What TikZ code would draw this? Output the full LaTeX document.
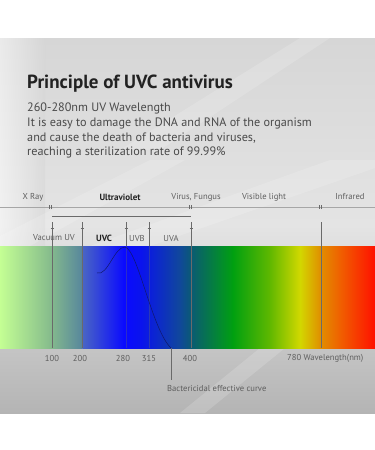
\documentclass[tikz,border=0pt]{standalone}
\usepackage{fontspec}
\setmainfont{PT Sans}
\usetikzlibrary{positioning}

\definecolor{titlegray}{HTML}{222222}
\definecolor{bodygray}{HTML}{4A4A4A}
\definecolor{labgray}{HTML}{5E5E5E}
\definecolor{linegray}{HTML}{6A6A6A}
\definecolor{curveblue}{HTML}{10186A}
\definecolor{panelA}{HTML}{D6D6D6}
\definecolor{panelB}{HTML}{E4E4E4}
\definecolor{panelC}{HTML}{B4B4B4}
\definecolor{spA}{HTML}{C4FF94}
\definecolor{spB}{HTML}{86BC8C}
\definecolor{spC}{HTML}{58889C}
\definecolor{spD}{HTML}{4A66C4}
\definecolor{spE}{HTML}{0A0AFF}
\definecolor{spF}{HTML}{0A14EC}
\definecolor{spG}{HTML}{10489A}
\definecolor{spH}{HTML}{0A5A74}
\definecolor{spI}{HTML}{00A010}
\definecolor{spJ}{HTML}{60B800}
\definecolor{spK}{HTML}{D2D800}
\definecolor{spL}{HTML}{E09000}
\definecolor{spM}{HTML}{F06000}
\definecolor{spN}{HTML}{FF1000}

\begin{document}
\begin{tikzpicture}[x=1pt, y=-1pt,
  lbl/.style={font=\fontsize{8.6}{9}\selectfont, text=labgray, inner sep=0pt},
  boldlbl/.style={lbl, font=\fontsize{9}{9}\selectfont\bfseries, text=titlegray},
  guide/.style={draw=linegray, line width=0.5pt},
  faint/.style={draw=linegray, line width=0.4pt, opacity=0.35},
  streak/.style={fill=white, opacity=0.16}]

  % page and grey panel
  \useasboundingbox (0,0) rectangle (375,450);
  \fill[white] (0,0) rectangle (375,450);
  \shade[top color=panelA, bottom color=panelC, middle color=panelB] (0,38) rectangle (375,413);
  \shade[left color=white, right color=panelA, opacity=0.5] (0,38) rectangle (45,246);
  \fill[streak] (0,236) -- (150,160) -- (185,160) -- (30,246) -- (0,246) -- cycle;
  \fill[streak] (90,246) -- (330,160) -- (375,160) -- (375,168) -- (150,246) -- cycle;
  \fill[streak] (120,150) -- (300,38) -- (330,38) -- (160,150) -- cycle;
  \fill[streak] (180,413) -- (260,348) -- (285,348) -- (205,413) -- cycle;

  % heading
  \node[anchor=base west, inner sep=0pt, text=titlegray,
        font=\fontsize{19}{20}\selectfont\bfseries] (title) at (27,88) {Principle of UVC antivirus};
  \node[anchor=north west, inner sep=0pt, text=bodygray, align=left,
        font=\fontsize{12.2}{14.6}\selectfont] (body) at (27,103)
        {260-280nm UV Wavelength\\
         It is easy to damage the DNA and RNA of the organism\\
         and cause the death of bacteria and viruses,\\
         reaching a sterilization rate of 99.99\%};

  % top row
  \node[lbl] (xray) at (33,197) {X Ray};
  \node[boldlbl] (ultra) at (120,197) {Ultraviolet};
  \node[lbl] (virus) at (196,197) {Virus, Fungus};
  \node[lbl] (vis) at (264,197) {Visible light};
  \node[lbl] (infra) at (350,197) {Infrared};
  \coordinate (rowL) at (0,207);
  \coordinate (rowR) at (375,207);
  \draw[guide, draw=gray!70] (rowL) -- (rowR);
  \foreach \t in {50,190,320}
    \draw[guide] (\t-1,205) -- (\t-1,209) (\t+1,205) -- (\t+1,209);

  % spectrum band
  \foreach \xa/\ca/\xb/\cb in {0/spA/50/spB, 50/spB/81/spC, 81/spC/82.5/spD,
      82.5/spD/124/spE, 124/spE/142/spF, 142/spF/180/spG, 180/spG/191/spH,
      191/spH/233/spI, 233/spI/270/spJ, 270/spJ/300/spK, 300/spK/320/spL,
      320/spL/340/spM, 340/spM/375/spN}
    \shade[left color=\ca, right color=\cb] (\xa-0.2,246) rectangle (\xb+0.2,348);
  \coordinate (bandTop) at (0,246);
  \coordinate (bandBot) at (0,348);

  % boundaries
  \coordinate (b100) at (52,222);
  \coordinate (b200) at (82,222);
  \coordinate (b280) at (126,222);
  \coordinate (b315) at (149,222);
  \coordinate (b400) at (191,222);
  \coordinate (b780) at (321,222);
  \foreach \b in {b100,b200,b400,b780}
    \draw[guide] (\b) -- (\b |- bandBot);
  \foreach \b in {b280,b315}{
    \draw[guide] (\b) -- (\b |- bandTop);
    \draw[faint] (\b |- bandTop) -- (\b |- bandBot);
  }
  \draw[guide] ([yshift=6]b100) -- ([yshift=6]b400);
  \foreach \b in {b100,b200,b280,b315,b400}
    \draw[guide] ([shift={(-1.5,6)}]\b) -- ([shift={(1.5,6)}]\b);

  % band names
  \node[lbl] (vacuum) at (54,238) {Vacuum UV};
  \node[boldlbl] (uvc) at (104,238) {UVC};
  \node[lbl] (uvb) at (137,238) {UVB};
  \node[lbl] (uva) at (171,238) {UVA};

  % bactericidal curve
  \coordinate (cstart) at (97,273);
  \coordinate (cpeak) at (125,247);
  \coordinate (cend) at (171,348);
  \draw[curveblue, line width=0.5pt] (cstart) .. controls (108,276) and (114,247) .. (cpeak)
        .. controls (138,250) and (152,330) .. (cend);
  \node[lbl, anchor=west] (bcl) at (167,389) {Bactericidal effective curve};
  \draw[guide] (cend) -- (cend |- 0,380);

  % wavelengths
  \node[lbl] (w100) at (52,358) {100};
  \node[lbl] (w200) at (80,358) {200};
  \node[lbl] (w280) at (123,358) {280};
  \node[lbl] (w315) at (149,358) {315};
  \node[lbl] (w400) at (190,358) {400};
  \node[lbl, anchor=west] (w780) at (287,358) {780 Wavelength(nm)};
\end{tikzpicture}
\end{document}
